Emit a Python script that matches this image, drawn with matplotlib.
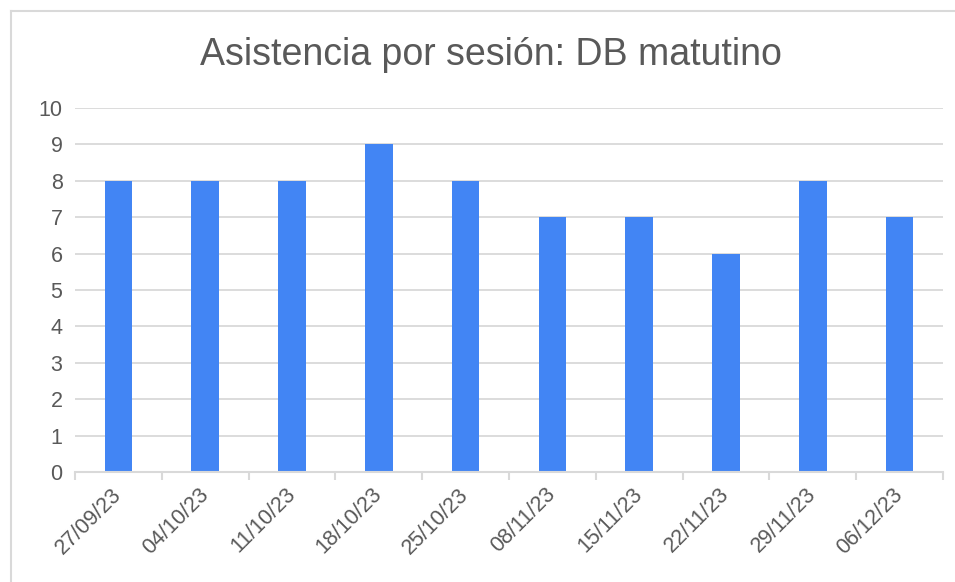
import matplotlib
matplotlib.use("Agg")
import matplotlib.pyplot as plt
from matplotlib.lines import Line2D
import numpy as np

plt.rcParams['font.family'] = ['Liberation Sans', 'DejaVu Sans']

dates = ["27/09/23", "04/10/23", "11/10/23", "18/10/23", "25/10/23",
         "08/11/23", "15/11/23", "22/11/23", "29/11/23", "06/12/23"]
attendance = [8, 8, 8, 9, 8, 7, 7, 6, 8, 7]
title = "Asistencia por sesión: DB matutino"

text_color = "#595959"
grid_color = "#D9D9D9"
bar_color = "#4285F4"

fig = plt.figure(figsize=(9.55, 5.82), dpi=100)
ax = fig.add_axes([75/955, 1-472/582, (943-75)/955, (472-108)/582])

x = np.arange(len(dates))
ax.bar(x, attendance, width=0.32, color=bar_color, zorder=3)

ax.set_xlim(-0.5, len(dates)-0.5)
ax.set_ylim(0, 10)
ax.set_yticks(range(0, 11))
ax.yaxis.grid(True, color=grid_color, linewidth=1.3, zorder=0)
for s in ["top", "right", "left"]:
    ax.spines[s].set_visible(False)
ax.spines["bottom"].set_color(grid_color)
ax.spines["bottom"].set_linewidth(1.5)
ax.spines["bottom"].set_zorder(4)

ax.set_xticks(x)
ax.set_xticklabels(dates, rotation=45, ha="right", va="center",
                   rotation_mode="anchor", fontsize=15.5, color=text_color)
ax.tick_params(axis="x", which="major", length=0, pad=14)
ax.set_xticks(np.arange(-0.5, len(dates)), minor=True)
ax.tick_params(axis="x", which="minor", length=6, width=1.5, color=grid_color)
ax.tick_params(axis="y", length=0, pad=9, labelsize=15.5, labelcolor=text_color)

fig.text(491/955, 1-55/582, title, ha="center", va="center",
         fontsize=27, color=text_color)

fig.add_artist(Line2D([11/955, 11/955], [0, 1-11/582], color=grid_color, lw=1.5))
fig.add_artist(Line2D([11/955, 1], [1-11/582, 1-11/582], color=grid_color, lw=1.5))

fig.savefig("out.png", dpi=100, facecolor="white")
